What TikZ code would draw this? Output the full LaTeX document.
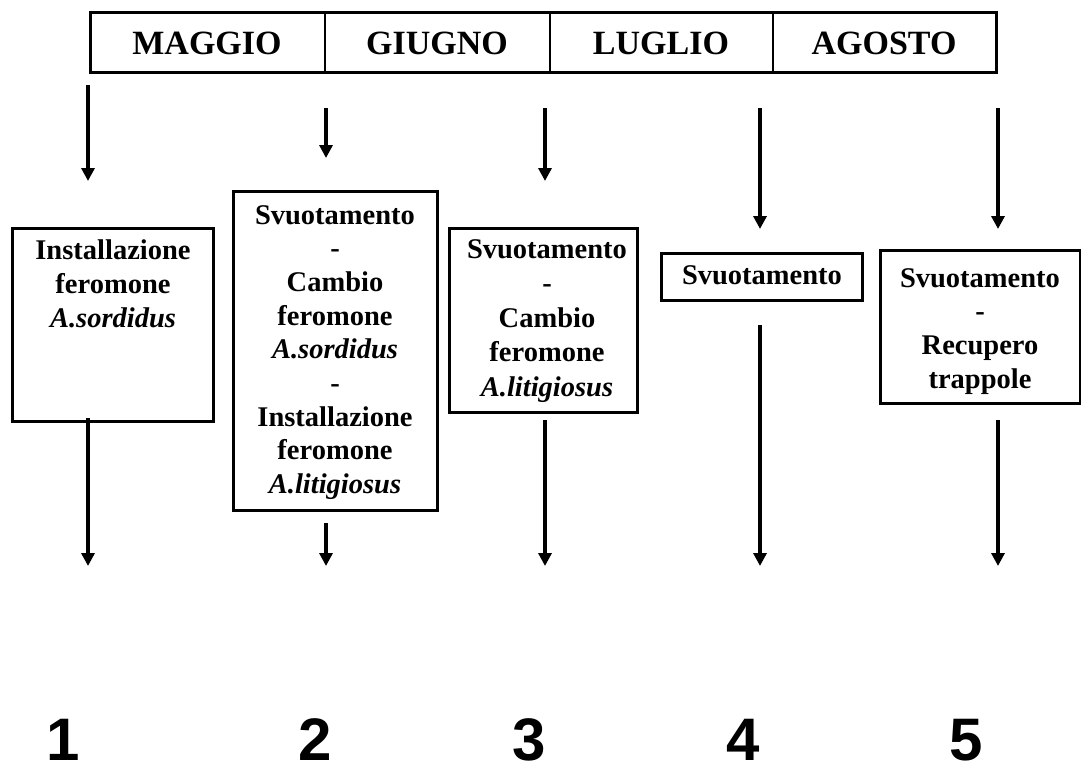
\documentclass[tikz,border=0pt]{standalone}
\usepackage{fontspec}
\setmainfont{Liberation Serif}
\newfontfamily\numfont{Liberation Sans}
\usetikzlibrary{arrows.meta}
\begin{document}
\begin{tikzpicture}[x=1pt,y=-1pt,
  bar/.style={draw,line width=3pt},
  month/.style={font=\fontsize{34}{40}\selectfont\bfseries},
  boxframe/.style={draw,line width=3pt,inner sep=0pt},
  boxtext/.style={anchor=north,inner sep=0pt,align=center,font=\fontsize{28.5}{33.7}\selectfont\bfseries},
  conn/.style={line width=4.5pt,-{Triangle[width=13pt,length=13pt]}},
  num/.style={anchor=base,inner sep=0pt,font=\fontsize{60}{70}\selectfont\numfont\bfseries}]
\useasboundingbox (0,0) rectangle (1081,771);
% month bar
\node[bar,minimum width=906pt,minimum height=60pt,inner sep=0pt] (barbox) at (543,42) {};
\draw[line width=2.5pt] (325,12) -- (325,72);
\draw[line width=2.5pt] (550,12) -- (550,72);
\draw[line width=2.5pt] (773,12) -- (773,72);
\node[month] (m1) at (207,43) {MAGGIO};
\node[month] (m2) at (437,43) {GIUGNO};
\node[month] (m3) at (661,43) {LUGLIO};
\node[month] (m4) at (884,43) {AGOSTO};
% boxes
\node[boxframe,minimum width=201pt,minimum height=193pt] (b1) at (113,324.5) {};
\node[boxframe,minimum width=204pt,minimum height=319pt] (b2) at (335,350.5) {};
\node[boxframe,minimum width=188pt,minimum height=184pt] (b3) at (543,320) {};
\node[boxframe,minimum width=201pt,minimum height=47pt] (b4) at (761.5,276.5) {};
\node[boxframe,minimum width=200pt,minimum height=153pt] (b5) at (980,326.5) {};
\node[boxtext] (t1) at (113,240) {Installazione\\feromone\\\itshape A.sordidus};
\node[boxtext] (t2) at (335,205) {Svuotamento\\-\\Cambio\\feromone\\\itshape A.sordidus\\-\\Installazione\\feromone\\\itshape A.litigiosus};
\node[boxtext,font=\fontsize{28.5}{34.5}\selectfont\bfseries] (t3) at (547,239) {Svuotamento\\-\\Cambio\\feromone\\\itshape A.litigiosus};
\node[boxtext] (t4) at (762,265) {Svuotamento};
\node[boxtext] (t5) at (980,268) {Svuotamento\\-\\Recupero\\trappole};
% arrow end points
\coordinate (a1s) at (88,85);  \coordinate (a1e) at (88,181);
\coordinate (a2s) at (326,108); \coordinate (a2e) at (326,158);
\coordinate (a3s) at (545,108); \coordinate (a3e) at (545,181);
\coordinate (a4s) at (760,108); \coordinate (a4e) at (760,229);
\coordinate (a5s) at (998,108); \coordinate (a5e) at (998,229);
\coordinate (c1s) at (88,418);  \coordinate (c1e) at (88,566);
\coordinate (c2s) at (326,523); \coordinate (c2e) at (326,566);
\coordinate (c3s) at (545,420); \coordinate (c3e) at (545,566);
\coordinate (c4s) at (760,325); \coordinate (c4e) at (760,566);
\coordinate (c5s) at (998,420); \coordinate (c5e) at (998,566);
\foreach \i in {1,...,5} {
  \draw[conn] (a\i s) -- (a\i e);
  \draw[conn] (c\i s) -- (c\i e);
}
% numbers
\node[num] (n1) at (63,760) {1};
\node[num] (n2) at (315,760) {2};
\node[num] (n3) at (529,760) {3};
\node[num] (n4) at (743,760) {4};
\node[num] (n5) at (966,760) {5};
\end{tikzpicture}
\end{document}
